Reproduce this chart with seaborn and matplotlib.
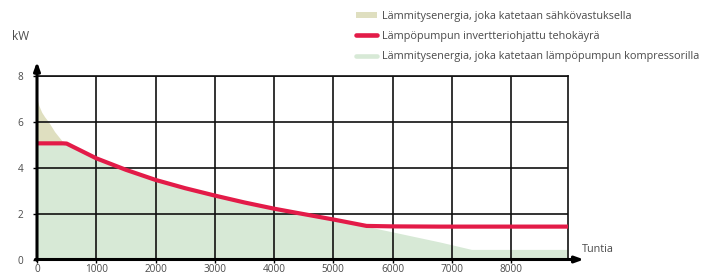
import numpy as np
import pandas as pd
import seaborn as sns
import matplotlib.pyplot as plt
from matplotlib.patches import Patch
from matplotlib.lines import Line2D

# Lämmitystehon pysyvyyskäyrä (luettu kuvasta)
hours = [0, 30, 80, 130, 190, 300, 440, 500, 1000, 1500, 2000, 2500, 3000,
         3500, 4000, 4400, 5000, 5560, 6000, 6800, 7000, 7330, 8960]
demand_kw = [7.0, 6.7, 6.4, 6.2, 6.0, 5.55, 5.1, 5.04, 4.4, 3.9, 3.46, 3.1, 2.78,
             2.48, 2.21, 2.0, 1.71, 1.44, 1.2, 0.76, 0.64, 0.44, 0.44]
heatpump_kw = [5.05, 5.05, 5.05, 5.05, 5.05, 5.05, 5.05, 5.04, 4.4, 3.9, 3.46, 3.1, 2.78,
               2.48, 2.21, 2.02, 1.74, 1.46, 1.44, 1.43, 1.43, 1.43, 1.43]

x_ticks = [0, 1000, 2000, 3000, 4000, 5000, 6000, 7000, 8000]
y_ticks = [0, 2, 4, 6, 8]

labels = ["Lämmitysenergia, joka katetaan sähkövastuksella",
          "Lämpöpumpun invertteriohjattu tehokäyrä",
          "Lämmitysenergia, joka katetaan lämpöpumpun kompressorilla"]

OLIVE = "#dfdfc0"
RED = "#e31b48"
GREEN = "#d7e9d6"
TXT = "#4a4a4a"

df = pd.DataFrame({"hours": hours, "demand": demand_kw, "heatpump": heatpump_kw})
df["compressor"] = np.minimum(df["demand"], df["heatpump"])

sns.set_style("white")
plt.rcParams["font.family"] = ["Open Sans", "DejaVu Sans"]

fig = plt.figure(figsize=(7.1, 2.75), dpi=100)
ax = fig.add_axes([37 / 710, 15.5 / 275, 531 / 710, 184 / 275])

ax.fill_between(df["hours"], df["compressor"], df["demand"], color=OLIVE, lw=0)
ax.fill_between(df["hours"], 0, df["compressor"], color=GREEN, lw=0)
sns.lineplot(data=df, x="hours", y="heatpump", color=RED, lw=3.0, ax=ax,
             solid_capstyle="butt", zorder=3)

ax.set_xlim(0, 8960)
ax.set_ylim(0, 8)
ax.set_xticks(x_ticks)
ax.set_yticks(y_ticks)
ax.set_xlabel("")
ax.set_ylabel("")
ax.grid(True, color="#111111", lw=1.2)
ax.set_axisbelow(False)
for line in ax.get_xgridlines() + ax.get_ygridlines():
    line.set_zorder(2)

for s in ["top", "right"]:
    ax.spines[s].set_visible(True)
    ax.spines[s].set_color("#111111")
    ax.spines[s].set_linewidth(1.2)
for s in ["left", "bottom"]:
    ax.spines[s].set_visible(False)

# akselit nuolilla
arrow = dict(arrowstyle="-|>,head_length=0.5,head_width=0.18",
             lw=2.2, color="black", shrinkA=0, shrinkB=0)
ax.annotate("", xy=(0, 1.075), xytext=(0, -0.005), xycoords="axes fraction",
            arrowprops=arrow)
ax.annotate("", xy=(1.03, 0), xytext=(-0.003, 0), xycoords="axes fraction",
            arrowprops=arrow)

ax.tick_params(axis="both", which="both", length=3, width=1, color="black",
               labelsize=7.2, labelcolor=TXT, pad=1, direction="out",
               left=True, bottom=True)
ax.tick_params(axis="x", length=2.5)
ax.tick_params(axis="y", pad=7)

fig.text(12 / 710, 1 - 37 / 275, "kW", fontsize=8.5, color=TXT, va="center")
fig.text(582 / 710, 1 - 250 / 275, "Tuntia", fontsize=7.8, color=TXT, va="center")

handles = [Patch(facecolor=OLIVE, edgecolor="none"),
           Line2D([0], [0], color=RED, lw=3.3),
           Line2D([0], [0], color=GREEN, lw=3.3)]
fig.legend(handles, labels, loc="upper left", bbox_to_anchor=(346 / 710, 1 - 1 / 275),
           frameon=False, fontsize=7.8, labelcolor=TXT, handlelength=2.0,
           handleheight=0.5, handletextpad=0.45, labelspacing=0.85)

fig.savefig("out.png", dpi=100)
